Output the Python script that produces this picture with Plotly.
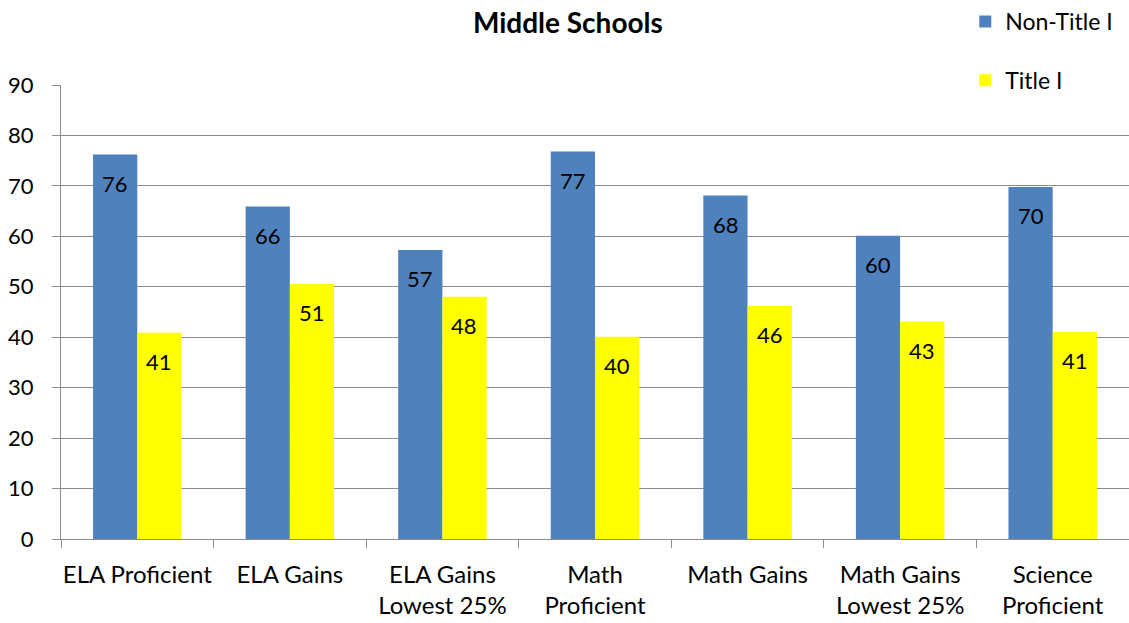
import plotly.graph_objects as go

categories = ["ELA Proficient", "ELA Gains", "ELA Gains<br>Lowest 25%", "Math<br>Proficient",
              "Math Gains", "Math Gains<br>Lowest 25%", "Science<br>Proficient"]
non_title = [76.2, 65.9, 57.3, 76.8, 68.1, 60.1, 69.8]
title_one = [40.9, 50.6, 48.0, 40.1, 46.2, 43.1, 41.1]
y_ticks = [0, 10, 20, 30, 40, 50, 60, 70, 80, 90]

FONT = "Lato, Open Sans, sans-serif"
BLUE = "#4F81BD"
YELLOW = "#FFFF00"

fig = go.Figure()
fig.add_trace(go.Bar(x=categories, y=non_title, name="Non-Title I", marker_color=BLUE,
                     marker_line_width=0, legendgroup="a"))
fig.add_trace(go.Bar(x=categories, y=title_one, name="Title I", marker_color=YELLOW,
                     marker_line_width=0, legendgroup="b"))

annotations = []
for series, shift in ((non_title, -22), (title_one, 22)):
    for c, v in zip(categories, series):
        annotations.append(dict(x=c, y=v, xref="x", yref="y", text=f"{round(v)}",
                                showarrow=False, xshift=shift, yshift=-29,
                                font=dict(family=FONT, size=22, color="black")))

fig.update_layout(
    width=1129, height=623,
    margin=dict(l=61, r=0, t=85, b=84, autoexpand=False),
    paper_bgcolor="white", plot_bgcolor="white",
    barmode="group", bargap=0.42, bargroupgap=0,
    font=dict(family=FONT, size=22, color="black"),
    title=dict(text="<b>Middle Schools</b>", x=0.503, xanchor="center", y=0.963, yanchor="middle",
               font=dict(family=FONT, size=28, color="black")),
    legend=dict(xref="container", yref="container", x=0.855, y=1.009, xanchor="left", yanchor="top",
                tracegroupgap=26, font=dict(family=FONT, size=23, color="black"),
                bgcolor="rgba(0,0,0,0)"),
    annotations=annotations,
)
fig.update_yaxes(range=[0, 90], tickvals=y_ticks, showgrid=True, gridcolor="#8C8C8C", gridwidth=1,
                 showline=True, linecolor="#8C8C8C", ticks="outside", ticklen=8, tickcolor="#8C8C8C",
                 zeroline=False, ticklabelstandoff=14)
fig.update_xaxes(showline=True, linecolor="#8C8C8C", ticks="outside", ticklen=8, tickcolor="#8C8C8C",
                 tickson="boundaries", showgrid=False, tickangle=0, ticklabelstandoff=14,
                 tickfont=dict(family=FONT, size=24, color="black"))

fig.write_html("out.html")
